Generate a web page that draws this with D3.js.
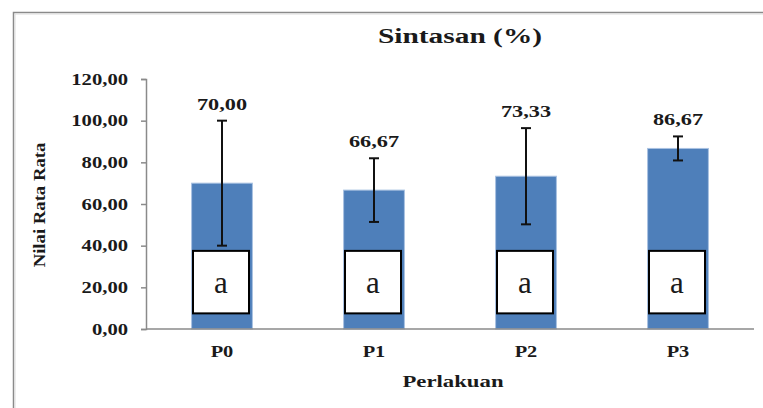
<!DOCTYPE html>
<html>
<head>
<meta charset="utf-8">
<script src="https://cdn.jsdelivr.net/npm/d3@7"></script>
<style>
  html, body { margin: 0; padding: 0; background: #fff; }
  svg text { font-family: "Liberation Serif", "Times New Roman", serif; fill: #1a1a1a; }
</style>
</head>
<body>
<svg id="chart"></svg>
<script>
// --- DATA ---
const categories = ["P0", "P1", "P2", "P3"];
const means = [70.00, 66.67, 73.33, 86.67];
const errors = [30.00, 15.28, 23.09, 5.77];
const letters = ["a", "a", "a", "a"];
const yTicks = [0, 20, 40, 60, 80, 100, 120];
const letterBox = [7.5, 37.5]; // value range covered by the letter boxes

const width = 763, height = 408;
const margin = { top: 79, right: 9, bottom: 79, left: 146 };

const svg = d3.select("#chart").attr("width", width).attr("height", height);

// stretch text horizontally, the source text is wider than Times
function stretch(sel, k) {
    sel.each(function () {
        const w = this.getComputedTextLength();
        d3.select(this).attr("textLength", w * k).attr("lengthAdjust", "spacingAndGlyphs");
    });
}

// frame (left + top edges only, rest cropped off)
svg.append("path")
    .attr("d", `M13.5,${height} V12.5 H${width}`)
    .attr("fill", "none").attr("stroke", "#8a8a8a").attr("stroke-width", 1.5);
svg.append("path")
    .attr("d", `M15,${height} V14 H${width}`)
    .attr("fill", "none").attr("stroke", "#dcdcdc").attr("stroke-width", 1);

// --- SCALES ---
const x = d3.scaleBand().domain(categories).range([margin.left, width - margin.right]);
const y = d3.scaleLinear().domain([0, 120]).range([height - margin.bottom, margin.top]);
const barW = x.bandwidth() * 0.4;
const fmt = v => d3.format(".2f")(v).replace(".", ",");

// --- BARS ---
svg.append("g").selectAll("rect")
    .data(means).join("rect")
    .attr("x", (d, i) => x(categories[i]) + x.bandwidth() / 2 - barW / 2)
    .attr("y", d => y(d))
    .attr("width", barW)
    .attr("height", d => y(0) - y(d))
    .attr("fill", "#4e7fba")
    .attr("stroke", "#a9c2e2").attr("stroke-width", 1);

// --- AXES ---
const yAxis = svg.append("g")
    .attr("transform", `translate(${margin.left},0)`)
    .call(d3.axisLeft(y).tickValues(yTicks).tickSize(5).tickPadding(13).tickFormat(fmt));
yAxis.select(".domain").attr("stroke", "#8a8a8a").attr("stroke-width", 1.5);
yAxis.selectAll(".tick line").attr("stroke", "#8a8a8a").attr("stroke-width", 1.5);
yAxis.selectAll(".tick text")
    .attr("font-size", 16.5).attr("font-weight", "bold").attr("font-family", null).attr("fill", "#1a1a1a")
    .call(stretch, 1.25);

svg.append("line")
    .attr("x1", margin.left).attr("x2", width - margin.right)
    .attr("y1", y(0)).attr("y2", y(0))
    .attr("stroke", "#8a8a8a").attr("stroke-width", 1.5);

svg.append("g").selectAll("text")
    .data(categories).join("text")
    .attr("x", d => x(d) + x.bandwidth() / 2)
    .attr("y", 357)
    .attr("text-anchor", "middle")
    .attr("font-size", 17).attr("font-weight", "bold")
    .text(d => d)
    .call(stretch, 1.2);

// --- ERROR BARS ---
const eb = svg.append("g").attr("stroke", "#111").attr("stroke-width", 2);
means.forEach((m, i) => {
    const cx = x(categories[i]) + x.bandwidth() / 2;
    eb.append("line").attr("x1", cx).attr("x2", cx).attr("y1", y(m - errors[i])).attr("y2", y(m + errors[i]));
    eb.append("line").attr("x1", cx - 5).attr("x2", cx + 5).attr("y1", y(m + errors[i])).attr("y2", y(m + errors[i]));
    eb.append("line").attr("x1", cx - 5).attr("x2", cx + 5).attr("y1", y(m - errors[i])).attr("y2", y(m - errors[i]));
});

// --- VALUE LABELS ---
svg.append("g").selectAll("text")
    .data(means).join("text")
    .attr("x", (d, i) => x(categories[i]) + x.bandwidth() / 2)
    .attr("y", (d, i) => y(d + errors[i]) - 11)
    .attr("text-anchor", "middle")
    .attr("font-size", 16.5).attr("font-weight", "bold")
    .text(d => fmt(d))
    .call(stretch, 1.35);

// --- LETTER BOXES ---
const boxW = 56;
const boxes = svg.append("g");
letters.forEach((l, i) => {
    const cx = x(categories[i]) + x.bandwidth() / 2 - 1;
    boxes.append("rect")
        .attr("x", cx - boxW / 2).attr("y", y(letterBox[1]))
        .attr("width", boxW).attr("height", y(letterBox[0]) - y(letterBox[1]))
        .attr("fill", "#fff").attr("stroke", "#000").attr("stroke-width", 2);
    boxes.append("text")
        .attr("x", cx).attr("y", 293)
        .attr("text-anchor", "middle")
        .attr("font-size", 31)
        .text(l);
});

// --- TITLES ---
svg.append("text")
    .attr("x", 460).attr("y", 43)
    .attr("text-anchor", "middle")
    .attr("font-size", 20).attr("font-weight", "bold")
    .text("Sintasan (%)")
    .call(stretch, 1.47);

svg.append("text")
    .attr("transform", "translate(45,205) rotate(-90)")
    .attr("text-anchor", "middle")
    .attr("font-size", 17).attr("font-weight", "bold")
    .text("Nilai Rata Rata")
    .call(stretch, 1.1);

svg.append("text")
    .attr("x", 453).attr("y", 387)
    .attr("text-anchor", "middle")
    .attr("font-size", 17.5).attr("font-weight", "bold")
    .text("Perlakuan")
    .call(stretch, 1.3);
</script>
</body>
</html>
